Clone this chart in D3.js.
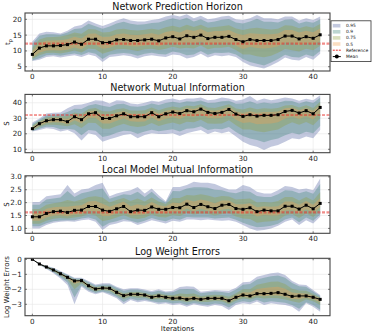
<!DOCTYPE html>
<html><head><meta charset="utf-8">
<script src="https://cdn.jsdelivr.net/npm/d3@7"></script>
<style>body{margin:0;background:#fff}svg{display:block;font-family:"DejaVu Sans",sans-serif}</style>
</head><body><svg id="c" width="374" height="336"></svg>
<script>
// ---------- data ----------
const iterations = [0,1,2,3,4,5,6,7,8,9,10,11,12,13,14,15,16,17,18,19,20,21,22,23,24,25,26,27,28,29,30,31,32,33,34,35,36,37,38,39,40,41];
const xTicks = [0,10,20,30,40];
const bandLevels = ["0.95","0.9","0.75","0.5"];
const bandColors = ["#5060a0","#408878","#90a040","#f0a050"];
const panelTitles = ["Network Prediction Horizon","Network Mutual Information","Local Model Mutual Information","Log Weight Errors"];

// Panel 1: Network Prediction Horizon
const phRef = 12.3;
const phTicks = [5,10,15,20];
const phMean = [8.9,10.9,11.6,11.6,11.7,12.0,12.8,12.1,13.7,13.7,12.6,12.7,13.5,13.6,13.3,13.3,13.5,13.7,13.2,14.1,14.5,13.8,14.8,14.3,15.0,13.9,14.3,14.3,14.6,13.6,12.9,13.6,13.3,13.3,13.3,13.6,14.7,14.7,13.8,14.5,14.0,15.1];
const phHi95 = [13.0,15.5,16.1,15.9,15.5,16.4,17.7,18.2,19.6,18.7,17.9,18.7,19.6,20.3,19.6,19.3,19.3,19.8,20.1,20.9,21.4,20.9,21.6,20.3,21.1,20.0,20.3,20.9,21.1,20.0,19.8,20.3,21.4,20.3,20.3,20.0,20.9,20.9,19.6,20.3,19.8,20.9];
const phLo95 = [6.8,7.2,8.1,8.3,7.9,8.3,8.6,8.1,8.9,8.3,6.5,8.1,8.3,8.6,8.3,7.6,8.3,8.6,8.3,8.1,8.9,8.6,7.6,8.1,9.1,7.9,8.6,8.3,8.6,8.1,6.5,5.4,4.9,4.4,5.4,6.5,7.9,7.2,7.0,8.1,7.2,9.1];
const phHi90 = [12.3,14.8,15.3,15.3,15.1,15.8,16.9,17.2,18.6,17.8,17.0,17.7,18.7,19.2,18.6,18.3,18.4,18.8,19.0,19.7,20.3,19.8,20.5,19.3,20.0,19.0,19.3,19.9,20.1,19.0,18.7,19.3,20.2,19.2,19.2,19.0,19.9,20.0,18.7,19.3,18.9,20.0];
const phLo90 = [7.0,7.7,8.6,8.8,8.5,8.9,9.2,8.7,9.6,9.1,7.4,8.8,9.1,9.3,9.1,8.5,9.1,9.4,9.0,8.9,9.8,9.4,8.6,8.9,10.0,8.8,9.4,9.3,9.5,8.9,7.4,6.5,5.9,5.4,6.3,7.4,8.8,8.1,7.9,8.9,8.2,10.0];
const phHi75 = [11.0,13.6,14.3,14.4,14.6,15.0,15.8,15.4,16.9,16.8,15.8,16.0,16.8,17.0,16.6,16.5,16.7,17.0,16.7,17.5,18.0,17.4,18.3,17.6,18.3,17.3,17.6,17.8,18.1,17.1,16.6,17.1,17.3,17.0,16.8,17.0,18.1,18.0,17.2,17.8,17.3,18.5];
const phLo75 = [7.4,8.6,9.3,9.4,9.2,9.6,10.1,9.5,10.8,10.5,9.1,9.8,10.5,10.6,10.4,10.0,10.5,10.7,10.3,10.7,11.3,10.8,11.0,10.8,11.7,10.5,11.0,11.0,11.3,10.3,8.9,8.9,8.3,8.0,8.5,9.4,10.6,10.2,9.8,10.7,10.2,11.6];
const phHi50 = [10.0,12.5,13.2,13.3,13.4,13.7,14.5,13.9,15.4,15.5,14.4,14.5,15.3,15.5,15.1,15.0,15.3,15.6,15.1,16.0,16.4,15.8,16.8,16.3,16.9,15.9,16.3,16.3,16.6,15.6,15.0,15.6,15.4,15.3,15.3,15.5,16.6,16.6,15.8,16.4,15.9,17.1];
const phLo50 = [7.9,9.4,10.1,10.2,10.1,10.4,11.1,10.5,12.0,11.9,10.7,11.0,11.8,11.8,11.5,11.4,11.7,11.9,11.4,12.2,12.6,11.9,12.7,12.3,13.0,11.9,12.3,12.3,12.6,11.6,10.6,11.3,10.9,10.8,11.0,11.5,12.7,12.6,11.8,12.5,12.0,13.1];

// Panel 2: Network Mutual Information
const nmiRef = 32.1;
const nmiTicks = [10,20,30,40];
const nmiMean = [23.3,26.5,28.4,29.1,29.1,27.8,31.0,29.1,32.9,33.6,29.9,29.9,31.6,32.9,31.0,31.0,31.0,33.6,31.0,32.9,34.0,33.1,34.9,34.2,35.9,33.8,33.1,33.8,35.7,32.7,31.2,32.3,31.4,31.9,31.9,32.3,34.4,35.1,33.4,34.9,32.9,37.0];
const nmiHi95 = [27.2,29.9,33.1,33.6,33.8,36.4,38.5,38.9,40.0,41.7,41.3,39.6,41.7,41.3,39.6,39.1,40.0,41.3,40.6,42.1,42.8,41.7,42.8,42.8,43.4,41.7,42.1,43.4,42.8,41.3,42.1,44.3,41.3,42.8,41.7,42.4,43.4,42.8,41.3,42.6,41.7,44.9];
const nmiLo95 = [21.4,22.4,23.5,23.1,21.4,22.4,20.3,15.6,20.3,19.2,14.9,16.4,17.7,19.2,19.9,17.1,19.2,20.3,19.9,19.9,20.3,18.6,20.3,21.4,22.4,19.9,21.4,20.3,21.4,18.2,14.9,12.8,11.7,9.6,11.7,12.8,14.9,17.1,16.4,18.2,17.1,22.4];
const nmiHi90 = [26.3,29.0,31.8,32.5,32.6,34.0,36.2,36.0,38.3,39.2,38.0,37.3,39.0,39.3,37.8,37.5,38.0,39.5,38.5,39.9,40.6,39.8,41.0,40.6,41.5,39.8,40.0,41.0,41.3,39.4,39.5,41.0,39.3,40.2,39.6,40.0,41.3,41.2,39.6,41.0,39.8,43.2];
const nmiLo90 = [21.8,23.3,24.5,24.3,23.0,23.3,22.6,19.0,22.5,21.9,18.0,18.9,20.6,22.0,21.6,20.0,21.4,22.6,21.6,22.3,23.0,21.4,23.3,23.6,24.9,22.4,23.3,23.0,24.3,21.2,18.5,17.0,16.0,14.5,16.0,17.0,19.0,20.6,19.5,21.3,20.4,25.0];
const nmiHi75 = [25.2,28.2,30.5,31.2,31.3,31.4,33.8,33.0,36.0,36.7,34.6,34.3,35.8,36.5,35.0,34.8,35.1,36.9,35.2,36.6,37.6,36.8,38.3,37.7,39.0,37.0,36.7,37.8,39.1,36.3,35.6,36.9,35.9,36.4,36.2,36.6,38.3,38.6,36.9,38.4,36.7,40.6];
const nmiLo75 = [22.3,24.4,25.8,25.9,25.5,24.8,26.2,23.8,27.1,27.0,23.2,23.2,25.0,26.5,25.0,24.4,25.0,27.0,25.0,26.3,27.2,26.0,27.7,27.5,29.0,26.7,26.5,26.7,28.8,25.5,22.8,22.8,21.6,21.0,21.9,22.8,25.4,27.4,25.8,27.6,25.5,30.0];
const nmiHi50 = [24.3,27.5,29.6,30.3,30.3,29.6,32.4,31.1,34.5,35.2,32.3,32.2,33.7,34.7,33.0,32.9,33.0,35.3,33.1,34.8,35.8,35.0,36.6,36.0,37.5,35.4,34.9,35.8,37.4,34.5,33.4,34.6,33.6,34.1,34.0,34.4,36.4,36.9,35.1,36.7,34.8,38.8];
const nmiLo50 = [22.7,25.3,27.0,27.5,27.3,26.2,28.7,26.6,30.2,30.4,26.6,26.6,28.4,29.8,28.1,27.8,28.0,30.5,28.1,29.7,30.7,29.6,31.4,30.9,32.5,30.3,29.8,30.3,32.3,29.1,26.9,27.4,26.2,26.4,26.6,27.5,29.9,31.2,29.6,31.3,29.2,33.6];

// Panel 3: Local Model Mutual Information
const lmiRef = 1.62;
const lmiTicks = [1.0,1.5,2.0,2.5,3.0];
const lmiMean = [1.45,1.45,1.58,1.65,1.67,1.62,1.70,1.71,1.85,1.85,1.71,1.66,1.76,1.85,1.65,1.71,1.70,1.83,1.74,1.74,1.81,1.80,1.94,1.81,1.93,1.84,1.77,1.90,1.93,1.77,1.74,1.80,1.65,1.71,1.68,1.68,1.86,1.86,1.75,1.90,1.76,1.97];
const lmiHi95 = [2.02,2.02,2.25,2.29,2.32,2.68,2.35,2.51,2.55,2.68,2.77,2.25,2.35,2.42,2.48,2.61,2.35,2.55,2.29,2.05,2.61,2.61,2.68,2.81,2.77,2.77,2.72,2.61,2.51,2.51,2.68,2.61,2.42,2.35,2.35,2.48,2.64,2.61,2.51,2.55,2.48,2.94];
const lmiLo95 = [1.00,1.00,1.13,1.22,1.26,1.28,1.26,1.32,1.35,1.26,0.94,1.13,1.19,1.28,1.26,1.13,1.22,1.32,1.26,1.19,1.30,1.26,1.35,1.35,1.32,1.35,1.32,1.30,1.32,1.26,1.13,1.00,0.91,0.94,1.00,1.10,1.26,1.35,1.13,1.32,1.19,1.45];
const lmiHi90 = [1.92,1.92,2.12,2.16,2.20,2.45,2.22,2.36,2.42,2.50,2.55,2.15,2.24,2.32,2.30,2.42,2.22,2.42,2.18,2.00,2.45,2.44,2.55,2.60,2.60,2.58,2.50,2.48,2.40,2.36,2.45,2.42,2.26,2.22,2.22,2.32,2.48,2.46,2.36,2.44,2.34,2.72];
const lmiLo90 = [1.08,1.08,1.20,1.28,1.31,1.32,1.32,1.38,1.42,1.35,1.06,1.22,1.28,1.36,1.30,1.22,1.30,1.40,1.33,1.28,1.38,1.34,1.44,1.42,1.42,1.42,1.38,1.40,1.42,1.34,1.22,1.12,1.04,1.06,1.10,1.18,1.35,1.42,1.24,1.42,1.30,1.54];
const lmiHi75 = [1.75,1.75,1.92,1.98,2.01,2.10,2.04,2.12,2.22,2.25,2.20,2.00,2.10,2.18,2.06,2.16,2.04,2.20,2.04,1.95,2.18,2.18,2.30,2.28,2.32,2.28,2.20,2.26,2.24,2.12,2.14,2.16,2.00,2.02,2.00,2.06,2.22,2.22,2.08,2.22,2.08,2.40];
const lmiLo75 = [1.18,1.18,1.30,1.37,1.40,1.38,1.42,1.46,1.56,1.50,1.28,1.34,1.42,1.52,1.40,1.36,1.41,1.54,1.44,1.42,1.52,1.48,1.60,1.54,1.58,1.56,1.50,1.56,1.60,1.46,1.38,1.36,1.22,1.26,1.28,1.32,1.50,1.56,1.40,1.58,1.44,1.68];
const lmiHi50 = [1.60,1.60,1.76,1.82,1.84,1.84,1.88,1.90,2.04,2.06,1.96,1.84,1.94,2.04,1.86,1.94,1.88,2.02,1.90,1.86,2.00,1.98,2.12,2.04,2.12,2.06,1.98,2.08,2.08,1.94,1.94,1.98,1.82,1.86,1.84,1.86,2.04,2.04,1.92,2.06,1.92,2.18];
const lmiLo50 = [1.30,1.30,1.42,1.49,1.51,1.46,1.54,1.55,1.68,1.66,1.48,1.48,1.58,1.68,1.50,1.52,1.54,1.67,1.58,1.58,1.65,1.63,1.77,1.66,1.76,1.68,1.62,1.72,1.76,1.60,1.54,1.60,1.46,1.52,1.50,1.50,1.68,1.70,1.58,1.74,1.60,1.82];

// Panel 4: Log Weight Errors
const lweTicks = [-3,-2,-1,0];
const lweMean = [0,-0.31,-0.51,-0.71,-0.96,-1.20,-1.44,-1.42,-1.76,-1.98,-1.91,-1.93,-2.20,-2.42,-2.33,-2.33,-2.38,-2.53,-2.44,-2.53,-2.60,-2.58,-2.67,-2.60,-2.67,-2.60,-2.60,-2.60,-2.76,-2.53,-2.38,-2.44,-2.29,-2.29,-2.27,-2.22,-2.33,-2.47,-2.44,-2.44,-2.53,-2.67];
const lweHi95 = [0,-0.27,-0.42,-0.56,-0.78,-1.00,-1.22,-1.22,-1.44,-1.67,-1.60,-1.60,-1.82,-2.00,-1.93,-1.93,-2.02,-2.12,-2.00,-2.15,-2.10,-1.85,-1.80,-1.82,-2.16,-2.11,-2.04,-2.08,-2.10,-1.89,-1.53,-1.49,-1.16,-1.04,-0.93,-0.87,-1.04,-1.44,-1.67,-1.71,-2.04,-2.38];
const lweLo95 = [0,-0.38,-0.64,-0.93,-1.27,-1.71,-3.00,-1.82,-2.16,-2.33,-2.20,-2.38,-2.60,-3.00,-2.71,-2.87,-2.78,-2.87,-3.00,-2.93,-3.04,-3.00,-3.16,-3.00,-3.09,-3.16,-3.04,-3.11,-3.38,-3.04,-2.93,-3.00,-2.82,-3.04,-2.93,-3.00,-3.04,-3.16,-3.49,-2.93,-3.16,-3.50];
const lweHi90 = [0,-0.28,-0.44,-0.60,-0.82,-1.05,-1.28,-1.27,-1.52,-1.74,-1.68,-1.68,-1.90,-2.10,-2.02,-2.02,-2.10,-2.20,-2.10,-2.22,-2.20,-2.00,-1.98,-2.00,-2.26,-2.20,-2.14,-2.18,-2.25,-2.02,-1.70,-1.65,-1.35,-1.22,-1.12,-1.08,-1.22,-1.58,-1.80,-1.82,-2.14,-2.44];
const lweLo90 = [0,-0.36,-0.60,-0.86,-1.18,-1.55,-2.55,-1.74,-2.06,-2.25,-2.14,-2.28,-2.50,-2.85,-2.62,-2.75,-2.68,-2.80,-2.88,-2.84,-2.94,-2.90,-3.04,-2.92,-3.00,-3.04,-2.94,-3.00,-3.22,-2.92,-2.80,-2.86,-2.70,-2.88,-2.80,-2.84,-2.90,-3.04,-3.30,-2.86,-3.04,-3.36];
const lweHi75 = [0,-0.29,-0.47,-0.65,-0.88,-1.12,-1.36,-1.34,-1.64,-1.86,-1.80,-1.81,-2.05,-2.26,-2.18,-2.17,-2.24,-2.36,-2.26,-2.37,-2.40,-2.28,-2.32,-2.28,-2.45,-2.40,-2.36,-2.38,-2.50,-2.26,-2.00,-2.00,-1.70,-1.60,-1.50,-1.48,-1.64,-1.96,-2.08,-2.10,-2.32,-2.54];
const lweLo75 = [0,-0.34,-0.56,-0.79,-1.07,-1.36,-2.00,-1.60,-1.92,-2.14,-2.05,-2.12,-2.38,-2.64,-2.50,-2.56,-2.54,-2.68,-2.66,-2.70,-2.78,-2.76,-2.86,-2.78,-2.84,-2.84,-2.78,-2.82,-3.00,-2.76,-2.62,-2.68,-2.54,-2.62,-2.58,-2.60,-2.68,-2.80,-2.90,-2.68,-2.80,-3.04];
const lweHi50 = [0,-0.30,-0.49,-0.68,-0.92,-1.16,-1.40,-1.38,-1.70,-1.92,-1.86,-1.87,-2.12,-2.34,-2.26,-2.25,-2.31,-2.45,-2.36,-2.45,-2.50,-2.45,-2.52,-2.45,-2.57,-2.51,-2.49,-2.50,-2.64,-2.40,-2.20,-2.22,-1.98,-1.92,-1.86,-1.82,-1.96,-2.22,-2.26,-2.28,-2.43,-2.60];
const lweLo50 = [0,-0.32,-0.53,-0.75,-1.01,-1.27,-1.65,-1.50,-1.84,-2.06,-1.98,-2.02,-2.29,-2.52,-2.42,-2.44,-2.46,-2.61,-2.54,-2.62,-2.68,-2.67,-2.77,-2.69,-2.76,-2.72,-2.70,-2.71,-2.88,-2.65,-2.50,-2.56,-2.42,-2.46,-2.42,-2.42,-2.50,-2.64,-2.66,-2.57,-2.66,-2.86];

// ---------- layout ----------
const svg = d3.select("#c");
const L = 25, R = 330;
const x = d3.scaleLinear().domain([-1.05, 42.4]).range([L, R]);
const minus = s => String(s).replace("-", "\u2212");

const panels = [
  {title: panelTitles[0], top: 13, bottom: 71, domain: [3.64, 22.0], ticks: phTicks, fmt: d => String(d),
   mean: phMean, bands: [[phLo95,phHi95],[phLo90,phHi90],[phLo75,phHi75],[phLo50,phHi50]], ref: phRef, refThick: true, ylabel: "tp"},
  {title: panelTitles[1], top: 94.4, bottom: 152.7, domain: [7.8, 45.4], ticks: nmiTicks, fmt: d => String(d),
   mean: nmiMean, bands: [[nmiLo95,nmiHi95],[nmiLo90,nmiHi90],[nmiLo75,nmiHi75],[nmiLo50,nmiHi50]], ref: nmiRef, refThick: false, ylabel: "S"},
  {title: panelTitles[2], top: 175.8, bottom: 233.3, domain: [0.81, 3.04], ticks: lmiTicks, fmt: d3.format(".1f"),
   mean: lmiMean, bands: [[lmiLo95,lmiHi95],[lmiLo90,lmiHi90],[lmiLo75,lmiHi75],[lmiLo50,lmiHi50]], ref: lmiRef, refThick: true, ylabel: "S"},
  {title: panelTitles[3], top: 258.3, bottom: 315.7, domain: [-3.76, 0.07], ticks: lweTicks, fmt: d => minus(d),
   mean: lweMean, bands: [[lweLo95,lweHi95],[lweLo90,lweHi90],[lweLo75,lweHi75],[lweLo50,lweHi50]], ref: null, ylabel: "Log Weight Errors"}
];

const defs = svg.append("defs");
panels.forEach((p, k) => {
  const y = d3.scaleLinear().domain(p.domain).range([p.bottom, p.top]);
  const g = svg.append("g");
  defs.append("clipPath").attr("id", "clip" + k).append("rect")
    .attr("x", L).attr("y", p.top).attr("width", R - L).attr("height", p.bottom - p.top);

  // grid
  g.selectAll(".gx").data(xTicks).join("line")
    .attr("x1", d => x(d)).attr("x2", d => x(d)).attr("y1", p.top).attr("y2", p.bottom)
    .attr("stroke", "#e6e6e6").attr("stroke-width", 0.6);
  g.selectAll(".gy").data(p.ticks).join("line")
    .attr("x1", L).attr("x2", R).attr("y1", d => y(d)).attr("y2", d => y(d))
    .attr("stroke", "#e6e6e6").attr("stroke-width", 0.6);

  const plot = g.append("g").attr("clip-path", `url(#clip${k})`);
  p.bands.forEach((b, j) => {
    const area = d3.area().x((d, i) => x(iterations[i])).y0((d, i) => y(b[0][i])).y1((d, i) => y(b[1][i]));
    plot.append("path").datum(iterations).attr("d", area)
      .attr("fill", bandColors[j]).attr("fill-opacity", 0.35);
  });
  if (p.ref !== null) {
    plot.append("line").attr("x1", L).attr("x2", R).attr("y1", y(p.ref)).attr("y2", y(p.ref))
      .attr("stroke", "#e8302a")
      .attr("stroke-width", p.refThick ? 2.2 : 1)
      .attr("stroke-opacity", p.refThick ? 0.55 : 0.95)
      .attr("stroke-dasharray", p.refThick ? "3,1.5" : "3,1.5");
  }
  const line = d3.line().x((d, i) => x(iterations[i])).y(d => y(d));
  plot.append("path").datum(p.mean).attr("d", line).attr("fill", "none").attr("stroke", "#000").attr("stroke-width", 1);
  plot.selectAll(".m").data(p.mean).join("rect")
    .attr("x", (d, i) => x(iterations[i]) - 1.5).attr("y", d => y(d) - 1.5)
    .attr("width", 3).attr("height", 3).attr("fill", "#000");

  // frame
  g.append("rect").attr("x", L).attr("y", p.top).attr("width", R - L).attr("height", p.bottom - p.top)
    .attr("fill", "none").attr("stroke", "#444").attr("stroke-width", 1.1);
  // ticks (inward, mirrored)
  g.selectAll(".ty").data(p.ticks).join("g").each(function(d) {
    const s = d3.select(this);
    s.append("line").attr("x1", L).attr("x2", L + 2).attr("y1", y(d)).attr("y2", y(d)).attr("stroke", "#444").attr("stroke-width", 0.7);
    s.append("line").attr("x1", R - 2).attr("x2", R).attr("y1", y(d)).attr("y2", y(d)).attr("stroke", "#444").attr("stroke-width", 0.7);
    s.append("text").attr("x", L - 3.2).attr("y", y(d)).attr("dy", "0.35em").attr("text-anchor", "end")
      .attr("font-size", 7.2).attr("fill", "#222").text(p.fmt(d));
  });
  g.selectAll(".tx").data(xTicks).join("g").each(function(d) {
    const s = d3.select(this);
    s.append("line").attr("x1", x(d)).attr("x2", x(d)).attr("y1", p.bottom).attr("y2", p.bottom - 2).attr("stroke", "#444").attr("stroke-width", 0.7);
    s.append("line").attr("x1", x(d)).attr("x2", x(d)).attr("y1", p.top).attr("y2", p.top + 2).attr("stroke", "#444").attr("stroke-width", 0.7);
    s.append("text").attr("x", x(d)).attr("y", p.bottom + 8).attr("text-anchor", "middle")
      .attr("font-size", 7.2).attr("fill", "#222").text(d);
  });
  // title
  g.append("text").attr("x", (L + R) / 2).attr("y", p.top - 3).attr("text-anchor", "middle")
    .attr("font-size", 9.6).attr("fill", "#111").text(p.title);
  // y label
  const yl = g.append("text").attr("transform", `translate(${k === 0 ? 10 : 9},${(p.top + p.bottom) / 2}) rotate(-90)`)
    .attr("text-anchor", "middle").attr("font-size", 7).attr("fill", "#111");
  if (p.ylabel === "tp") {
    yl.append("tspan").text("t");
    yl.append("tspan").attr("font-size", 5).attr("dy", 1.8).text("p");
  } else {
    yl.text(p.ylabel);
  }
});

// x label
svg.append("text").attr("x", (L + R) / 2).attr("y", 331).attr("text-anchor", "middle")
  .attr("font-size", 7).attr("fill", "#111").text("Iterations");

// legend
const lg = svg.append("g");
lg.append("rect").attr("x", 331).attr("y", 20.8).attr("width", 40).attr("height", 40.8)
  .attr("fill", "#fff").attr("stroke", "#333").attr("stroke-width", 0.8);
const rowY = [25.7, 31.8, 37.9, 44.0, 50.2, 56.6];
bandLevels.forEach((lvl, j) => {
  lg.append("rect").attr("x", 332.8).attr("y", rowY[j] - 1.8).attr("width", 7.6).attr("height", 3.6)
    .attr("fill", bandColors[j]).attr("fill-opacity", 0.35);
  lg.append("text").attr("x", 346).attr("y", rowY[j]).attr("dy", "0.35em").attr("font-size", 4.4).attr("fill", "#111").text(lvl);
});
lg.append("line").attr("x1", 332.8).attr("x2", 340.8).attr("y1", rowY[4]).attr("y2", rowY[4])
  .attr("stroke", "#e8302a").attr("stroke-width", 1).attr("stroke-dasharray", "2,1");
lg.append("text").attr("x", 346).attr("y", rowY[4]).attr("dy", "0.35em").attr("font-size", 4.4).attr("fill", "#111").text("Reference");
lg.append("line").attr("x1", 332.8).attr("x2", 340.8).attr("y1", rowY[5]).attr("y2", rowY[5]).attr("stroke", "#000").attr("stroke-width", 1);
lg.append("circle").attr("cx", 336.8).attr("cy", rowY[5]).attr("r", 2).attr("fill", "#000");
lg.append("text").attr("x", 346).attr("y", rowY[5]).attr("dy", "0.35em").attr("font-size", 4.4).attr("fill", "#111").text("Mean");
</script></body></html>
